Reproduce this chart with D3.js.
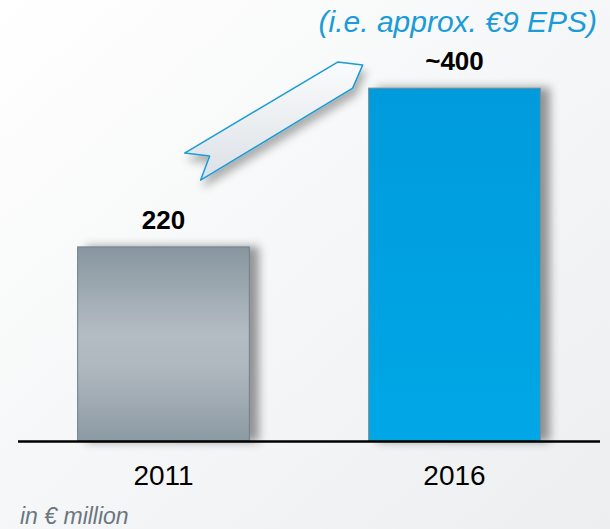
<!DOCTYPE html>
<html>
<head>
<meta charset="utf-8">
<script src="https://cdn.jsdelivr.net/npm/d3@7"></script>
<style>
  html, body { margin: 0; padding: 0; overflow: hidden; }
  body { width: 610px; height: 529px; }
  text { font-family: Arial, "Liberation Sans", sans-serif; }
</style>
</head>
<body>
<div id="chart"></div>
<script>
// data
var years = ["2011", "2016"];
var values = [220, 400];
var valueLabels = ["220", "~400"];
var note = "(i.e. approx. \u20AC9 EPS)";
var unitLabel = "in \u20AC million";

var width = 610, height = 529;

var svg = d3.select("#chart").append("svg")
    .attr("width", width)
    .attr("height", height);

var defs = svg.append("defs");

// background
var bg = defs.append("linearGradient").attr("id", "bg")
    .attr("x1", "0%").attr("y1", "0%").attr("x2", "100%").attr("y2", "100%");
bg.append("stop").attr("offset", "0%").attr("stop-color", "#ffffff");
bg.append("stop").attr("offset", "100%").attr("stop-color", "#eceef0");

// grey bar
var g1 = defs.append("linearGradient").attr("id", "grey")
    .attr("x1", "0").attr("y1", "0").attr("x2", "0").attr("y2", "1");
g1.append("stop").attr("offset", "0%").attr("stop-color", "#87969f");
g1.append("stop").attr("offset", "45%").attr("stop-color", "#b4bcc3");
g1.append("stop").attr("offset", "62%").attr("stop-color", "#b0b8bf");
g1.append("stop").attr("offset", "100%").attr("stop-color", "#8c9aa3");

// blue bar
var g2 = defs.append("linearGradient").attr("id", "blue")
    .attr("x1", "0").attr("y1", "0").attr("x2", "0").attr("y2", "1");
g2.append("stop").attr("offset", "0%").attr("stop-color", "#009bdc");
g2.append("stop").attr("offset", "100%").attr("stop-color", "#00a7e6");

var g3 = defs.append("linearGradient").attr("id", "arrowFill")
    .attr("x1", "0").attr("y1", "0").attr("x2", "0").attr("y2", "1");
g3.append("stop").attr("offset", "0%").attr("stop-color", "#fafbfc");
g3.append("stop").attr("offset", "100%").attr("stop-color", "#dce1e6");

var shadow = defs.append("filter").attr("id", "barShadow")
    .attr("x", "-10%").attr("y", "-10%").attr("width", "140%").attr("height", "120%");
shadow.append("feDropShadow")
    .attr("dx", 9).attr("dy", 0).attr("stdDeviation", 5)
    .attr("flood-color", "#000").attr("flood-opacity", 0.4);

var arrowShadow = defs.append("filter").attr("id", "arrowShadow")
    .attr("x", "-20%").attr("y", "-20%").attr("width", "150%").attr("height", "160%");
arrowShadow.append("feDropShadow")
    .attr("dx", 3).attr("dy", 7).attr("stdDeviation", 4)
    .attr("flood-color", "#000").attr("flood-opacity", 0.3);

svg.append("rect")
    .attr("width", width).attr("height", height)
    .attr("fill", "url(#bg)");

// scales
var x = d3.scaleBand()
    .domain(years)
    .range([18, 600])
    .paddingInner(0.41)
    .paddingOuter(0.205);

var y = d3.scaleLinear()
    .domain([0, 450])
    .range([441, 44]);

var data = years.map(function(d, i) {
    return {year: d, value: values[i], label: valueLabels[i]};
});

// bars
svg.selectAll(".bar")
    .data(data)
    .enter().append("rect")
    .attr("class", "bar")
    .attr("x", function(d) { return x(d.year); })
    .attr("y", function(d) { return y(d.value); })
    .attr("width", x.bandwidth())
    .attr("height", function(d) { return y(0) - y(d.value); })
    .attr("fill", function(d, i) { return i === 0 ? "url(#grey)" : "url(#blue)"; })
    .attr("stroke", function(d, i) { return i === 0 ? "#6f7f89" : "#7f8a90"; })
    .attr("stroke-width", 1)
    .attr("filter", "url(#barShadow)");

// value labels
svg.selectAll(".value")
    .data(data)
    .enter().append("text")
    .attr("class", "value")
    .attr("x", function(d) { return x(d.year) + x.bandwidth() / 2; })
    .attr("y", function(d) { return y(d.value) - 18; })
    .attr("text-anchor", "middle")
    .attr("font-size", "26px")
    .attr("font-weight", "bold")
    .attr("fill", "#000")
    .text(function(d) { return d.label; });

// axis line
svg.append("line")
    .attr("x1", x.range()[0]).attr("x2", x.range()[1])
    .attr("y1", y(0) + 0.5).attr("y2", y(0) + 0.5)
    .attr("stroke", "#000")
    .attr("stroke-width", 2.5);

// category labels
var xAxis = svg.append("g")
    .attr("transform", "translate(0," + y(0) + ")")
    .call(d3.axisBottom(x).tickSize(0).tickPadding(24));
xAxis.select(".domain").remove();
xAxis.selectAll("text")
    .attr("font-family", "Arial, 'Liberation Sans', sans-serif")
    .attr("font-size", "28px")
    .attr("fill", "#000");

// arrow annotation, placed relative to the 2016 bar
var ax = x("2016"), ay = y(400);
var arrowPts = [[-184, 65], [-31, -26], [-6, -23], [-16, 0], [-168, 92], [-159, 68]];
svg.append("polygon")
    .attr("points", arrowPts.map(function(p) { return (ax + p[0]) + "," + (ay + p[1]); }).join(" "))
    .attr("fill", "url(#arrowFill)")
    .attr("stroke", "#1b9bd7")
    .attr("stroke-width", 1.5)
    .attr("stroke-linejoin", "round")
    .attr("filter", "url(#arrowShadow)");

// note
svg.append("text")
    .attr("x", 597)
    .attr("y", 32)
    .attr("text-anchor", "end")
    .attr("font-size", "30px")
    .attr("font-style", "italic")
    .attr("fill", "#1b9bd7")
    .text(note);

// unit
svg.append("text")
    .attr("x", 20)
    .attr("y", 524)
    .attr("font-size", "23px")
    .attr("font-style", "italic")
    .attr("fill", "#6a7780")
    .text(unitLabel);
</script>
</body>
</html>
